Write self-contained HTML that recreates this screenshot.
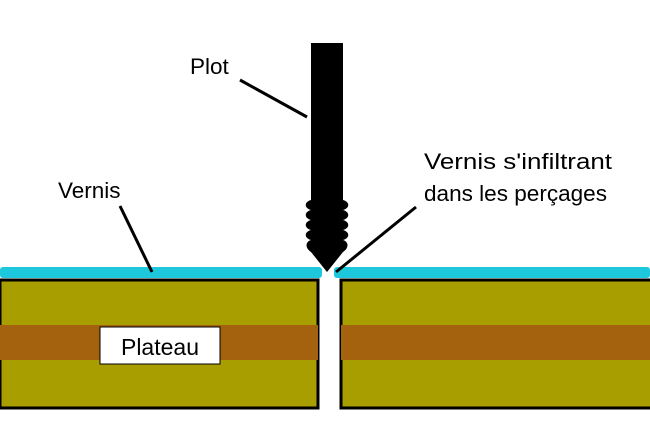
<!DOCTYPE html>
<html><head><style>
body{margin:0;width:650px;height:433px;background:#fff;overflow:hidden;font-family:"Liberation Sans",sans-serif}
</style></head><body>
<svg width="650" height="433" xmlns="http://www.w3.org/2000/svg">
<rect x="0" y="267" width="322" height="11" fill="#1ec8dc" rx="3"/>
<rect x="334" y="267" width="316" height="11" fill="#1ec8dc" rx="3"/>
<rect x="0" y="280" width="318" height="128" fill="#a99e00" stroke="#000" stroke-width="3"/>
<rect x="0" y="325" width="318" height="35" fill="#a4620f"/>
<rect x="341" y="280" width="312" height="128" fill="#a99e00" stroke="#000" stroke-width="3"/>
<rect x="341" y="325" width="312" height="35" fill="#a4620f"/>
<rect x="100" y="327" width="120" height="37" fill="#fff" stroke="#000" stroke-width="1"/>
<text x="160" y="355" font-size="23" text-anchor="middle">Plateau</text>
<path d="M311 43 H343 V200 C350 202 350 208 343 210 C350 212 350 218 343 220 C350 222 350 228 343 230 C350 232 350 238 343 240 C349 242 349 248 343 252 L327 272 L311 252 C305 248 305 242 311 240 C304 238 304 232 311 230 C304 228 304 222 311 220 C304 218 304 212 311 210 C304 208 304 202 311 200 Z" fill="#000"/>
<text x="190" y="74" font-size="22.5">Plot</text>
<line x1="240" y1="80" x2="307" y2="117" stroke="#000" stroke-width="3"/>
<text x="58" y="198" font-size="22.5">Vernis</text>
<line x1="120" y1="206" x2="152" y2="272" stroke="#000" stroke-width="3"/>
<text x="424" y="169" font-size="22.5" textLength="188" lengthAdjust="spacingAndGlyphs">Vernis s'infiltrant</text>
<text x="424" y="201" font-size="22.5" textLength="183" lengthAdjust="spacingAndGlyphs">dans les perçages</text>
<line x1="416" y1="207" x2="336" y2="272" stroke="#000" stroke-width="3"/>
</svg>
</body></html>
